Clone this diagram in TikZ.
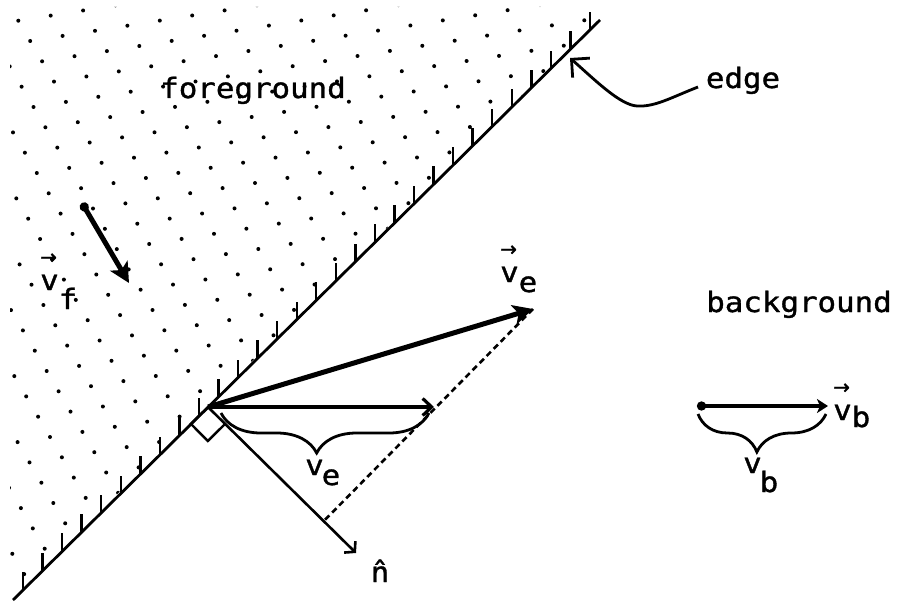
\documentclass[tikz,border=0pt]{standalone}
\usepackage{fontspec}
\setmainfont{DejaVu Sans Mono}[FakeStretch=1.1, FakeBold=1.2]
\newfontfamily\arrowfont{DejaVu Sans}[FakeBold=1.5]
\usetikzlibrary{arrows.meta,decorations.pathreplacing,calc}
\newcommand{\vecarrow}{\rlap{\raisebox{26pt}{\arrowfont\fontsize{20}{20}\selectfont →}}}
\begin{document}
\begin{tikzpicture}[x=1pt,y=-1pt,
  lab/.style={inner sep=0pt, font=\fontsize{28}{32}\selectfont},
  thickvec/.style={line width=5pt, -{Stealth[length=20pt,width=20pt,inset=5pt]}},
  thinvec/.style={line width=2.6pt},
  tick/.style={line width=2.4pt},
  bracestyle/.style={line width=2.8pt, decorate}
]
\useasboundingbox (0,0) rectangle (900,602);
% dotted foreground
\begin{scope}
  \clip (10,7) -- (611,7) -- (10,600) -- cycle;
  \foreach \m in {-12,...,19}{
    \foreach \k in {-1,...,34}{
      \fill ({18.3+32.4*\m+11.9*\k},{20.7-5.1*\m+20.3*\k}) circle (2.0);
    }
  }
\end{scope}
% edge line
\coordinate (E1) at (13,600);
\coordinate (E2) at (600,20);
\draw[line width=2.8pt] (E1) -- (E2);
\foreach \i in {0,...,29}{
  \draw[tick] ({23+19.55*\i},{600-(10+19.55*\i)*0.98807}) -- ++(0,-18);
}
% key points
\coordinate (P) at (208,407);
\coordinate (Ve) at (533,309);
\coordinate (H) at (434,407);
\coordinate (N) at (356,553);
\coordinate (F) at ($(P)!(Ve)!(N)$);
% right angle marker
\draw[line width=2.4pt] (P) -- ++(-17.1,16.9) -- ++(16.9,17.1) -- ++(17.1,-16.9);
% normal
\draw[thinvec, -{Straight Barb[length=7pt,width=16pt]}] (P) -- (N);
% dashed
\draw[line width=2.6pt, dash pattern=on 6pt off 4pt] (Ve) -- (F);
% horizontal component
\draw[line width=3.2pt, -{Straight Barb[length=9pt,width=17pt]}] (P) -- (H);
% v_e
\draw[thickvec] (P) -- (Ve);
% brace under component
\draw[bracestyle, decoration={brace,mirror,amplitude=40pt,aspect=0.46}] (221,413) -- (429,413);
% v_f
\coordinate (Fs) at (82,203);
\coordinate (Ft) at (129,283);
\draw[line width=5pt, {Circle[length=9pt]}-{Stealth[length=20pt,width=20pt,inset=5pt]}] (Fs) -- (Ft);
% v_b
\coordinate (Bs) at (697,406);
\coordinate (Bt) at (828,406);
\draw[line width=4.8pt, {Circle[length=9pt]}-{Stealth[length=11pt,width=14pt,inset=3pt]}] (Bs) -- (Bt);
\draw[bracestyle, decoration={brace,mirror,amplitude=38pt,aspect=0.46}] (698,414) -- (826,414);
% labels
\node[lab, anchor=base] (fg) at (253,98) {foreground};
\node[lab, anchor=base] (edgelab) at (743,88) {edge};
\node[lab, anchor=base] (bg) at (799,312) {background};
\node[lab, anchor=base west] (vf) at (40,290) {\vecarrow v\raisebox{-19pt}{f}};
\node[lab, anchor=base west] (vevec) at (500,282) {\vecarrow v\raisebox{-10pt}{e}};
\node[lab, anchor=base west] (vbvec) at (833,420) {\vecarrow v\raisebox{-7pt}{b}};
\node[lab, anchor=base west] (vbs) at (743,473) {v\kern-2pt\raisebox{-19pt}{b}};
\node[lab, anchor=base west] (ves) at (305,475) {v\kern-2pt\raisebox{-10pt}{e}};
\node[lab, anchor=base] (nhat) at (380,582) {n̂};
% edge pointer
\coordinate (Et) at (570,58);
\draw[line width=2.8pt, -{Straight Barb[length=13pt,width=26pt]}] (698,87) .. controls (670,98) and (655,107) .. (637,106) .. controls (620,105) and (595,80) .. (Et);
\end{tikzpicture}
\end{document}
